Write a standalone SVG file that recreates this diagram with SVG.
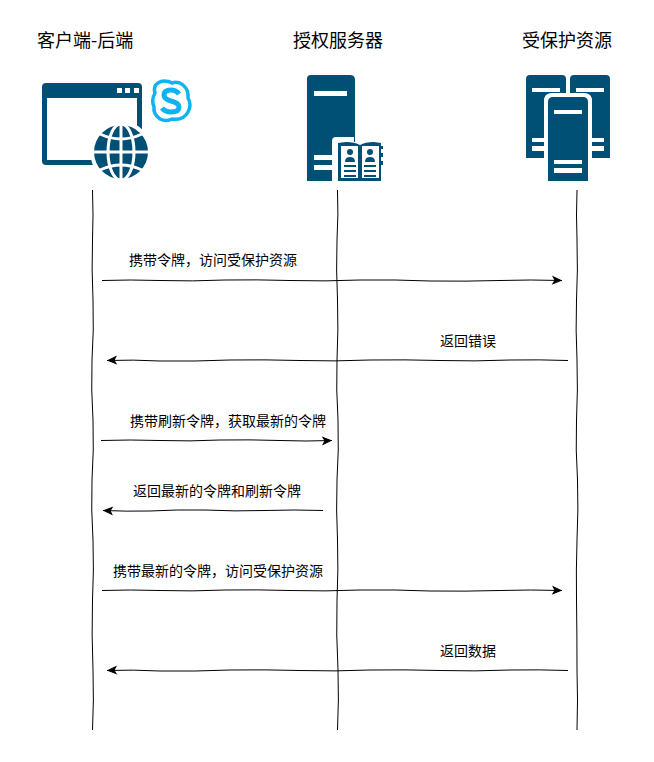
<svg xmlns="http://www.w3.org/2000/svg" width="654" height="762" viewBox="0 0 654 762">
<style>
.t{font-family:"Noto Sans CJK SC","Liberation Sans",sans-serif;fill:#000}
.h{font-size:18px}
.l{font-size:14px}
.life,.msg{fill:none;stroke:#000;stroke-width:1}
.msg{marker-end:url(#a)}
.d{fill:#004f74}
.w{fill:#fff}
</style>
<defs>
<marker id="a" markerUnits="userSpaceOnUse" markerWidth="12" markerHeight="12" refX="9" refY="5" orient="auto" overflow="visible">
<path d="M0,1.5 L8,5 L0,8.5 L2,5 Z" fill="#000" stroke="#000" stroke-width="1"/>
</marker>
</defs>
<rect width="654" height="762" fill="#fff"/>
<g id="connectors">
<path class="life" d="M92.5,190 Q93.5,215 92.5,240 Q91.5,270 93,300 Q94,330 92,360 Q91,390 93,420 Q94,450 92,480 Q91,510 93,540 Q94,570 92.5,600 Q91.5,635 93,670 Q94,700 92.5,730"/>
<path class="life" d="M337.5,190 Q338.5,215 337,240 Q336,270 337.5,300 Q338.5,330 337,360 Q336,390 338,420 Q339,450 337,480 Q336,510 337.5,540 Q338.5,570 337,600 Q336,635 338,670 Q339,700 337.5,730"/>
<path class="life" d="M577,190 Q576,215 577,240 Q578,270 576.5,300 Q575.5,330 577,360 Q578,390 576.5,420 Q575.5,450 577.5,480 Q578.5,510 577,540 Q576,570 576.5,600 Q577,635 577,670 Q578,700 577,730"/>
<path class="msg" d="M102,280.5 Q130,279.5 160,280.5 Q192,281.5 225,280 Q257,279.5 290,280.5 Q325,281.5 360,280 Q395,279.5 430,281 Q465,281.5 500,280.5 Q530,279.5 562,280.5"/>
<path class="msg" d="M568,360.5 Q540,359.5 510,360 Q475,361.5 440,360.5 Q405,359.5 370,360 Q335,361.5 300,360.5 Q265,359.5 230,360 Q195,361.5 160,361 Q133,359.5 107,360.5"/>
<path class="msg" d="M101,440.5 Q130,439.5 160,440.5 Q190,441.5 220,440 Q250,439.5 280,440.5 Q306,441.5 332,440.5"/>
<path class="msg" d="M323,510.5 Q295,509.5 265,510.5 Q235,511.5 205,510 Q177,509.5 150,511 Q126,511.5 103,510.5"/>
<path class="msg" d="M102,590.5 Q130,589.5 160,590.5 Q192,591.5 225,590 Q257,589.5 290,590.5 Q325,591.5 360,590 Q395,589.5 430,591 Q465,591.5 500,590.5 Q530,589.5 562,590.5"/>
<path class="msg" d="M568,670.5 Q540,669.5 510,670 Q475,671.5 440,670.5 Q405,669.5 370,670 Q335,671.5 300,670.5 Q265,669.5 230,670 Q195,671.5 160,671 Q133,669.5 107,670.5"/>
</g>
<g id="client">
<text class="t h" x="37" y="47">客户端-后端</text>
<path class="d" fill-rule="evenodd" d="M46,83 H138 Q142,83 142,87 V161 Q142,165 138,165 H46 Q42,165 42,161 V87 Q42,83 46,83 Z M47,98 V160 H137 V98 Z"/>
<rect class="w" x="117" y="88" width="5" height="5"/><rect class="w" x="125" y="88" width="5" height="5"/><rect class="w" x="134" y="88" width="5" height="5"/>
<circle class="w" cx="121" cy="152" r="31"/>
<circle class="d" cx="121" cy="152" r="27"/>
<g fill="none" stroke="#fff" stroke-width="3">
<ellipse cx="121" cy="152" rx="13" ry="28"/>
<path d="M121,123 V181"/>
<path d="M93,152 H149"/>
<path d="M100,134 Q121,144 142,134"/>
<path d="M100,170 Q121,160 142,170"/>
</g>
</g>
<g id="skype">
<path d="M164,81 Q169,81 172,83 Q178,81 183,85 Q189,90 188,98 Q192,105 188,112 Q183,121 172,119 Q166,122 160,119 Q153,114 154,107 Q151,100 155,93 Q153,86 158,83 Q161,81 164,81 Z" fill="#fff" stroke="#0db4f0" stroke-width="3.5"/>
<path d="M179,94 Q176,90 171,90 Q164,90 164,95 Q164,99 171,101 Q179,103 179,107 Q179,112 171,112 Q165,112 162,108" fill="none" stroke="#0db4f0" stroke-width="5"/>
</g>
<g id="auth">
<text class="t h" x="293" y="47">授权服务器</text>
<path class="d" d="M311,75 H350 Q355,75 355,80 V181 H307 V79 Q307,75 311,75 Z"/>
<rect class="w" x="314" y="91" width="33" height="5"/>
<rect class="w" x="314" y="155" width="19" height="5"/>
<rect class="w" x="314" y="165" width="19" height="5"/>
<path class="w" d="M336,137 H354 V142 H385 V181 H332 V141 Q332,137 336,137 Z"/>
<path class="d" d="M338,143 L346,142 Q355,142 360,145 Q365,142 374,142 L381,143 V146 H383 V149 H381 V153 H383 V157 H381 V161 H383 V165 H381 V181 H338 Z"/>
<g class="w">
<rect x="341" y="146" width="17" height="32"/>
<rect x="362" y="146" width="17" height="32"/>
</g>
<g class="d">
<circle cx="350" cy="152" r="3"/><path d="M345,162 Q345,157 350,157 Q355,157 355,162 Z"/>
<circle cx="370" cy="152" r="3"/><path d="M365,162 Q365,157 370,157 Q375,157 375,162 Z"/>
<rect x="344" y="165" width="12" height="2"/><rect x="344" y="170" width="12" height="2"/><rect x="344" y="175" width="12" height="2"/>
<rect x="364" y="165" width="12" height="2"/><rect x="364" y="170" width="12" height="2"/><rect x="364" y="175" width="12" height="2"/>
</g>
</g>
<g id="resource">
<text class="t h" x="522" y="47">受保护资源</text>
<path class="d" d="M530,75 H562 Q566,75 566,79 V158 H526 V79 Q526,75 530,75 Z"/>
<path class="d" d="M574,75 H606 Q610,75 610,79 V158 H570 V79 Q570,75 574,75 Z"/>
<rect class="w" x="532" y="88" width="28" height="4"/>
<rect class="w" x="576" y="88" width="28" height="4"/>
<rect class="w" x="532" y="138" width="14" height="4"/><rect class="w" x="532" y="146" width="14" height="5"/>
<rect class="w" x="590" y="138" width="14" height="4"/><rect class="w" x="590" y="146" width="14" height="5"/>
<path class="w" d="M552,93 H584 Q592,93 592,101 V181 H544 V101 Q544,93 552,93 Z"/>
<path class="d" d="M553,97 H583 Q588,97 588,102 V181 H548 V102 Q548,97 553,97 Z"/>
<rect class="w" x="554" y="110" width="28" height="4"/>
<rect class="w" x="554" y="160" width="28" height="4"/>
<rect class="w" x="554" y="168" width="28" height="5"/>
</g>
<g id="labels">
<text class="t l" x="129" y="265">携带令牌，访问受保护资源</text>
<text class="t l" x="440" y="346">返回错误</text>
<text class="t l" x="130" y="426">携带刷新令牌，获取最新的令牌</text>
<text class="t l" x="133" y="496">返回最新的令牌和刷新令牌</text>
<text class="t l" x="113" y="576">携带最新的令牌，访问受保护资源</text>
<text class="t l" x="440" y="656">返回数据</text>
</g>
</svg>
